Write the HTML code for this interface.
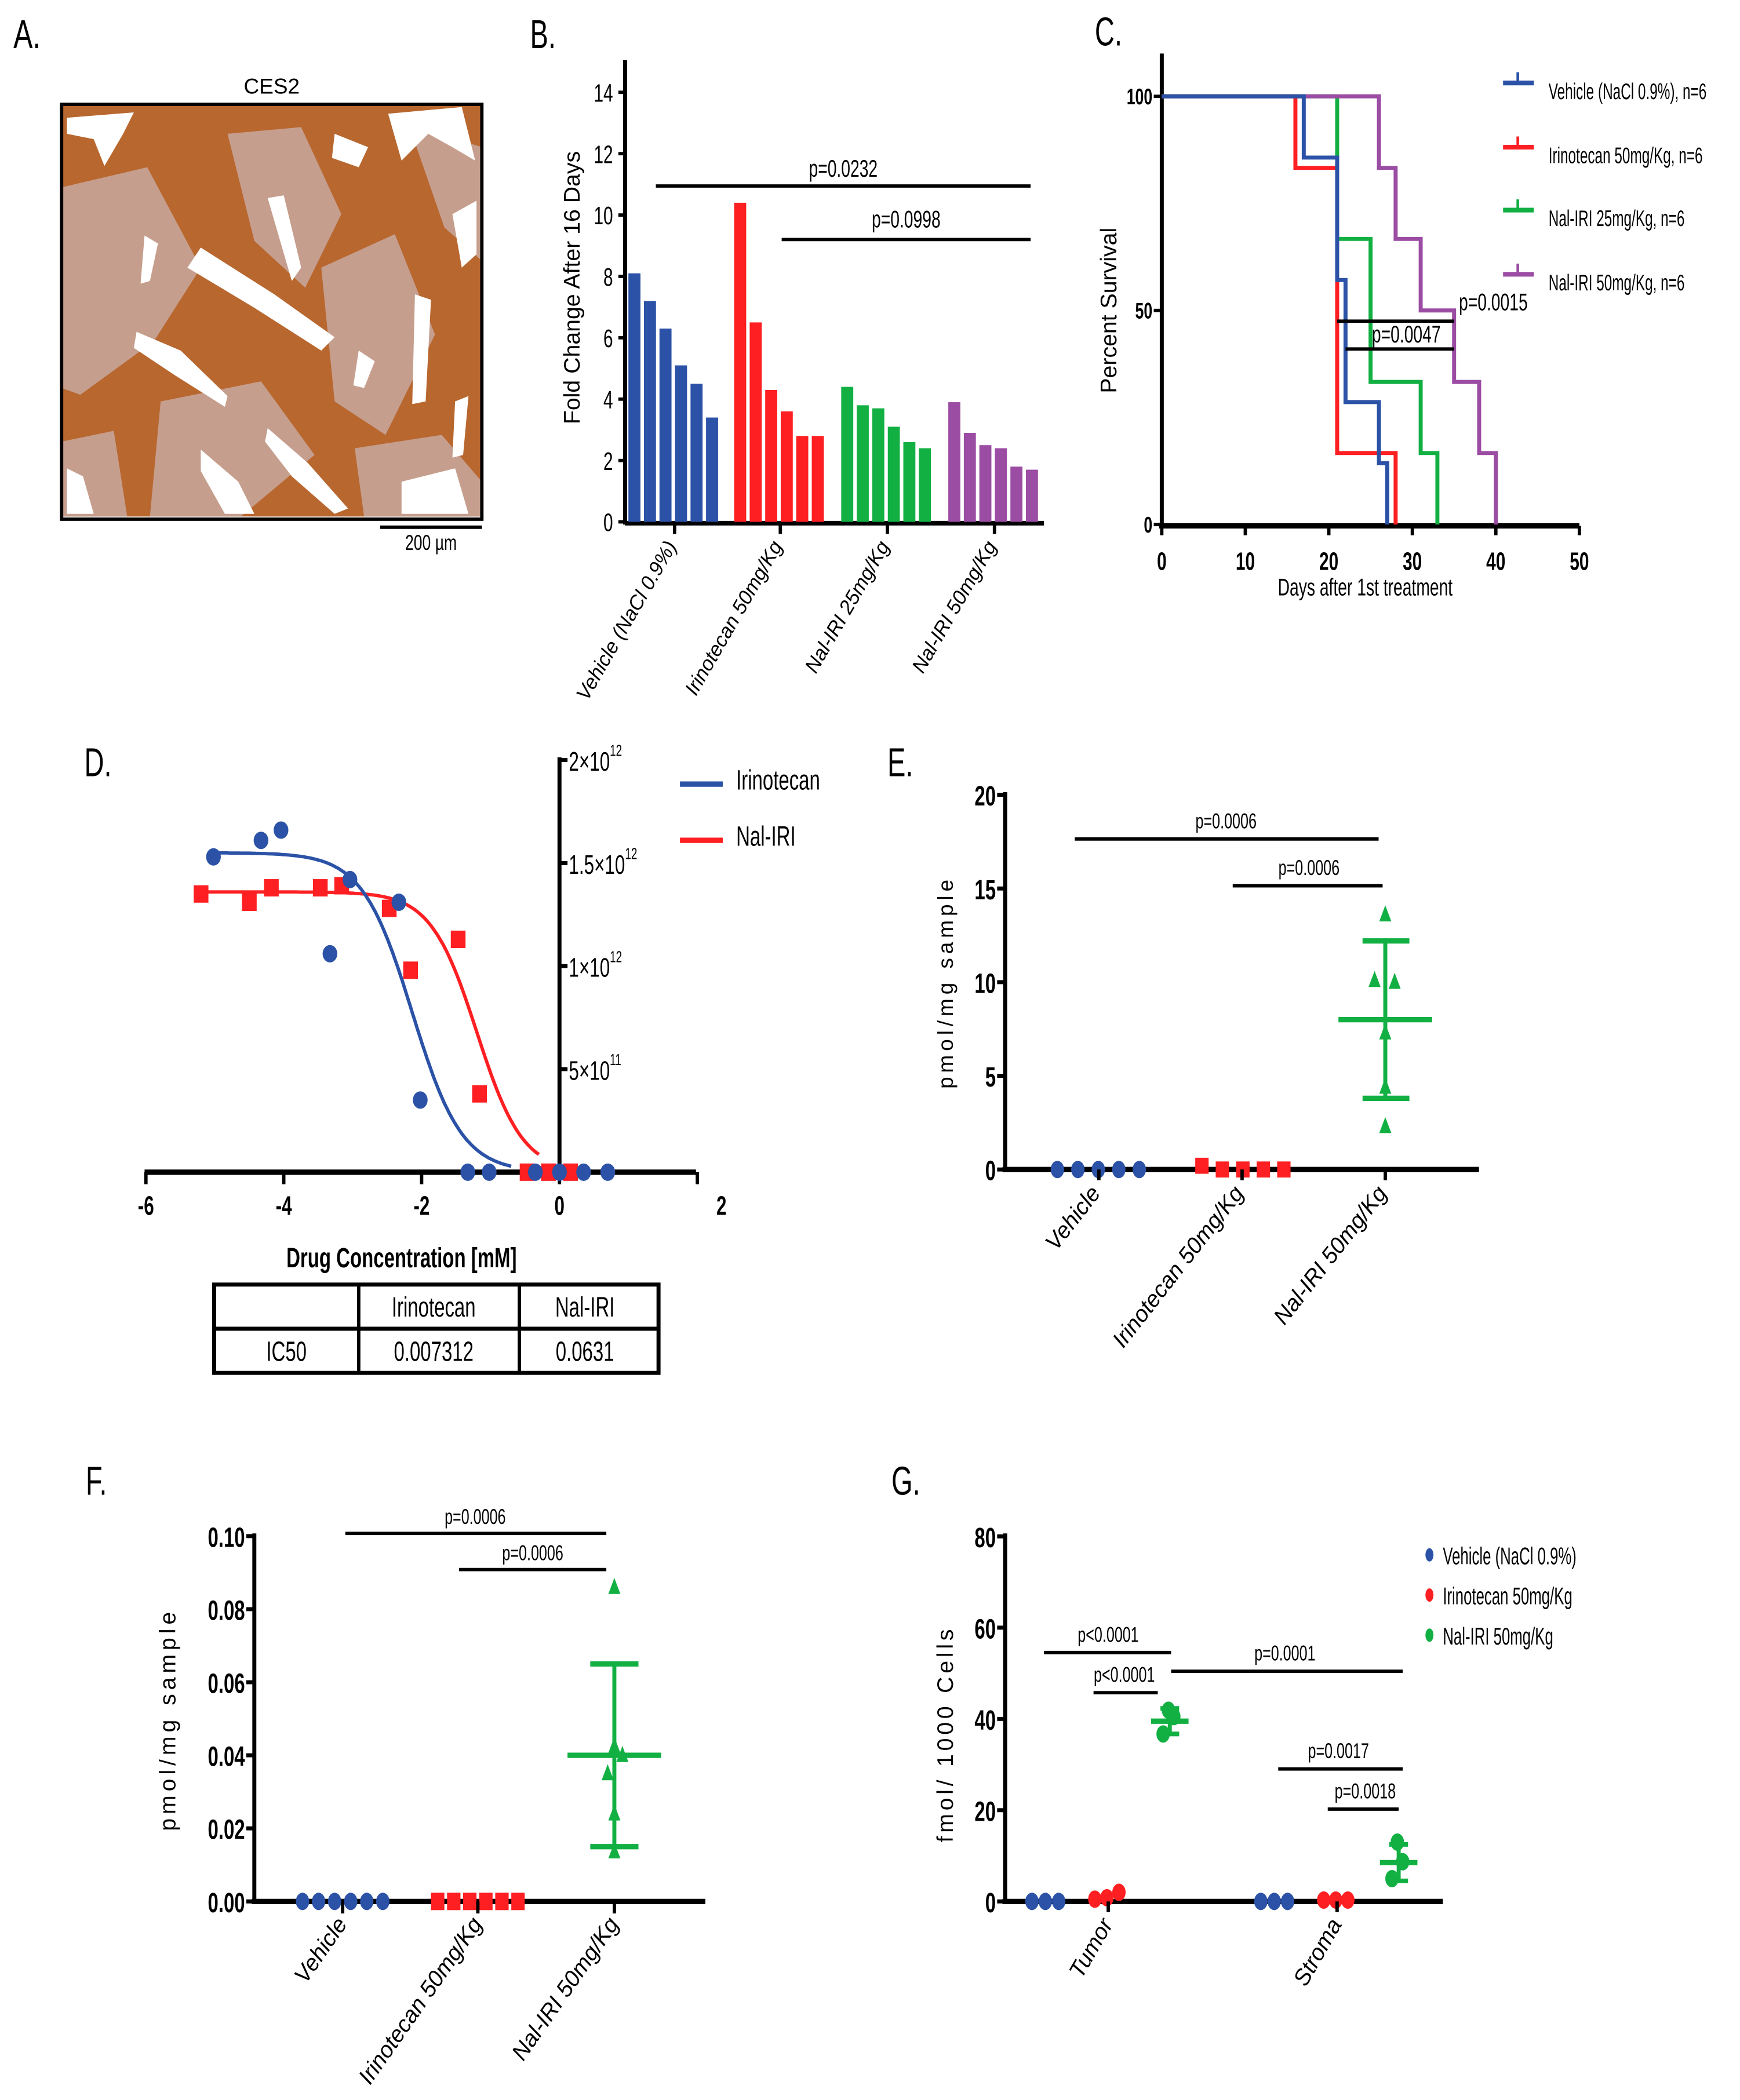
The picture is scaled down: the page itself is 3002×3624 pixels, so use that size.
<!DOCTYPE html>
<html><head><meta charset="utf-8"><style>
html,body{margin:0;padding:0;background:#fff;}
svg{display:block;}
text{font-family:"Liberation Sans",sans-serif;fill:#000;}
</style></head><body>
<svg id="fig" xmlns="http://www.w3.org/2000/svg" width="3002" height="3624" viewBox="0 0 1300 1569.4">
<rect x="0" y="0" width="1300" height="1569.4" fill="#fff"/>
<g>
<text x="10" y="36" font-size="30" transform="translate(10 0) scale(0.72 1) translate(-10 0)">A.</text>
<text x="203" y="70" font-size="16" text-anchor="middle">CES2</text>
<g>
<rect x="46" y="78" width="314" height="308" fill="#b8672f"/>
<g fill="#c8a89e" opacity="0.85">
<path d="M46 140 L110 125 L150 200 L115 255 L60 295 L46 290Z"/>
<path d="M170 100 L225 95 L255 160 L228 215 L190 180Z"/>
<path d="M240 200 L295 175 L325 250 L288 325 L250 300Z"/>
<path d="M120 300 L195 285 L235 340 L180 386 L112 386Z"/>
<path d="M305 92 L360 110 L360 195 L332 170Z"/>
<path d="M46 330 L85 322 L95 386 L46 386Z"/>
<path d="M265 335 L330 325 L360 360 L360 386 L272 386Z"/>
</g>
<g fill="#fff">
<path d="M50 88 L100 84 L92 100 L78 124 L70 104 L50 100Z"/>
<path d="M150 185 L205 220 L250 252 L240 262 L190 230 L140 200Z"/>
<path d="M102 248 L135 262 L170 296 L168 304 L130 280 L100 260Z"/>
<path d="M108 176 L118 182 L112 210 L105 212Z"/>
<path d="M200 148 L212 146 L225 200 L218 210Z"/>
<path d="M290 85 L345 80 L355 120 L338 110 L320 100 L300 120Z"/>
<path d="M338 160 L356 150 L356 190 L345 200Z"/>
<path d="M310 220 L322 224 L318 300 L308 302Z"/>
<path d="M200 320 L230 346 L260 380 L250 384 L218 356 L198 330Z"/>
<path d="M150 336 L178 360 L190 384 L168 384 L150 352Z"/>
<path d="M50 350 L62 356 L70 384 L50 384Z"/>
<path d="M300 360 L340 350 L350 384 L300 384Z"/>
<path d="M250 100 L275 110 L268 125 L248 118Z"/>
<path d="M268 262 L280 270 L272 290 L264 288Z"/>
<path d="M340 300 L350 296 L346 340 L338 342Z"/>
</g>
<rect x="46" y="78" width="314" height="310" fill="none" stroke="#000" stroke-width="2.5"/>
</g>
<line x1="284" y1="394" x2="360" y2="394" stroke="#000" stroke-width="2.5"/>
<text x="322" y="411" font-size="16" text-anchor="middle" transform="translate(322 0) scale(0.72 1) translate(-322 0)">200 µm</text>
</g>
<g id="pB"></g>
<g id="pC"></g>
<g id="pD"></g>
<g id="pE"></g>
<g id="pF"></g>
<g id="pG"></g>
</svg>
<script>
// ---------- DATA ----------
const bCategories = ["Vehicle (NaCl 0.9%)","Irinotecan 50mg/Kg","Nal-IRI 25mg/Kg","Nal-IRI 50mg/Kg"];
const bVehicle = [8.1,7.2,6.3,5.1,4.5,3.4];
const bIrinotecan = [10.4,6.5,4.3,3.6,2.8,2.8];
const bNal25 = [4.4,3.8,3.7,3.1,2.6,2.4];
const bNal50 = [3.9,2.9,2.5,2.4,1.8,1.7];
const bTicks = [0,2,4,6,8,10,12,14];
const cVehicleT = [17,21,22,26,27];
const cVehicleP = [85.7,57.1,28.6,14.3,0];
const cIrinoT = [16,21,28];
const cIrinoP = [83.3,16.7,0];
const cNal25T = [21,25,31,33];
const cNal25P = [66.7,33.3,16.7,0];
const cNal50T = [26,28,31,35,38,40];
const cNal50P = [83.3,66.7,50,33.3,16.7,0];
const cXTicks = [0,10,20,30,40,50];
const cYTicks = [0,50,100];
const cLegend = ["Vehicle (NaCl 0.9%), n=6","Irinotecan 50mg/Kg, n=6","Nal-IRI 25mg/Kg, n=6","Nal-IRI 50mg/Kg, n=6"];
const dIrinoX = [-5.02,-4.33,-4.04,-3.33,-3.04,-2.33,-2.02,-1.33,-1.02,-0.35,0,0.35,0.7];
const dIrinoY = [1.53,1.61,1.66,1.06,1.42,1.31,0.35,0,0,0,0,0,0];
const dNalX = [-5.2,-4.5,-4.18,-3.47,-3.16,-2.47,-2.16,-1.47,-1.16,-0.47,-0.16,0.16];
const dNalY = [1.35,1.31,1.38,1.38,1.39,1.28,0.98,1.13,0.38,0,0,0];
const dIrinoFit = [1.55,-2.136,1.2];
const dNalFit = [1.36,-1.2,1.3];
const dXTicks = [-6,-4,-2,0,2];
const dYTicks = [0.5,1,1.5,2];
const dYTickMant = ["5","1","1.5","2"];
const dYTickExp = ["11","12","12","12"];
const eCategories = ["Vehicle","Irinotecan 50mg/Kg","Nal-IRI 50mg/Kg"];
const eVehicle = [0,0,0,0,0];
const eIrino = [0.2,0,0,0,0];
const eNal = [13.6,10.1,10,7.3,4.4,2.3];
const eNalStats = [8.0,12.2,3.8];
const eTicks = [0,5,10,15,20];
const fCategories = ["Vehicle","Irinotecan 50mg/Kg","Nal-IRI 50mg/Kg"];
const fVehicle = [0,0,0,0,0,0];
const fIrino = [0,0,0,0,0,0];
const fNal = [0.086,0.0425,0.04,0.035,0.024,0.0136];
const fNalStats = [0.040,0.065,0.015];
const fTicks = [0,0.02,0.04,0.06,0.08,0.10];
const fTickLabels = ["0.00","0.02","0.04","0.06","0.08","0.10"];
const gCategories = ["Tumor","Stroma"];
const gVehicle = [[0,0,0],[0,0,0]];
const gIrino = [[0.5,0.8,2],[0.3,0.3,0.3]];
const gNal = [[41.9,40.5,36.7],[13,8.7,5]];
const gNalMean = [39.5,8.5];
const gNalSD = [2.8,4];
const gTicks = [0,20,40,60,80];
const gLegend = ["Vehicle (NaCl 0.9%)","Irinotecan 50mg/Kg","Nal-IRI 50mg/Kg"];

const BLUE="#2b52a6", RED="#fe1f22", GREEN="#12b043", PURPLE="#9b4ca3";
const NS="http://www.w3.org/2000/svg";
const NARROW=0.68;
function mk(parent, tag, attrs, name){
  const e=document.createElementNS(NS,tag);
  for(const k in attrs) e.setAttribute(k,attrs[k]);
  
  
  parent.appendChild(e); return e;
}
function txt(parent,x,y,s,size,name,extra){
  const a=Object.assign({x:x,y:y,'font-size':size},extra||{});
  if(!a.transform) a.transform=`translate(${x} 0) scale(${NARROW} 1) translate(${-x} 0)`;
  const t=mk(parent,'text',a,name); t.textContent=s; return t;
}
function wtxt(parent,x,y,s,size,name,extra){
  const a=Object.assign({x:x,y:y,'font-size':size},extra||{});
  const t=mk(parent,'text',a,name); t.textContent=s; return t;
}
function line(p,x1,y1,x2,y2,w,name,col){return mk(p,'line',{x1:x1,y1:y1,x2:x2,y2:y2,stroke:col||'#000','stroke-width':w},name);}
function tri(p,cx,cy,col,name){return mk(p,'path',{d:`M${cx} ${cy-7}L${cx+4.5} ${cy+5}L${cx-4.5} ${cy+5}Z`,fill:col},name);}

// ---------- PANEL B ----------
(function(){
  const g=document.getElementById('pB');
  txt(g,396,36,"B.",30,'panel-b-label');
  const y=v=>390-v*22.93;
  const centers=[504,583,663,743];
  line(g,467,45,467,392,3,'b-y-axis');
  line(g,467,391,780,391,3.5,'b-x-axis');
  bTicks.forEach(v=>{line(g,462,y(v),467,y(v),2.5,'b-y-tick');txt(g,458,y(v)+7,String(v),19,'b-y-tick-label',{'text-anchor':'end'});});
  const series=[bVehicle,bIrinotecan,bNal25,bNal50], cols=[BLUE,RED,GREEN,PURPLE];
  series.forEach((s,gi)=>{
    s.forEach((v,i)=>{
      const x=centers[gi]-34.5+i*11.6;
      mk(g,'rect',{x:x,y:y(v),width:9,height:390-y(v),fill:cols[gi]},'bar-'+gi+'-'+i);
    });
    line(g,centers[gi],391,centers[gi],399,2.5,'b-x-tick');
    wtxt(g,centers[gi]+2,408,bCategories[gi],15,'b-category-label',{'text-anchor':'end','font-style':'italic',transform:`rotate(-60 ${centers[gi]+2} 408)`});
  });
  wtxt(g,433,215,"Fold Change After 16 Days",17,'b-y-axis-title',{'text-anchor':'middle',transform:'rotate(-90 433 215)'});
  line(g,490,139,770,139,2.5,'b-sig-line-1');
  txt(g,630,132,"p=0.0232",18,'b-sig-label-1',{'text-anchor':'middle'});
  line(g,584,179,770,179,2.5,'b-sig-line-2');
  txt(g,677,170,"p=0.0998",18,'b-sig-label-2',{'text-anchor':'middle'});
})();

// ---------- PANEL C ----------
(function(){
  const g=document.getElementById('pC');
  txt(g,818,34,"C.",30,'panel-c-label');
  const x=d=>868+d*6.24, y=p=>392-p*3.2;
  line(g,868,40,868,394,3,'c-y-axis');
  line(g,866,393,1180,393,4,'c-x-axis');
  cXTicks.forEach(v=>{line(g,x(v),393,x(v),400,2.5,'c-x-tick');txt(g,x(v),426,String(v),19,'c-x-tick-label',{'text-anchor':'middle','font-weight':'bold'});});
  cYTicks.forEach(v=>{line(g,862,y(v),868,y(v),2.5,'c-y-tick');txt(g,861,y(v)+6,String(v),17,'c-y-tick-label',{'text-anchor':'end','font-weight':'bold'});});
  txt(g,1020,445,"Days after 1st treatment",18,'c-x-axis-title',{'text-anchor':'middle'});
  wtxt(g,834,232,"Percent Survival",17,'c-y-axis-title',{'text-anchor':'middle',transform:'rotate(-90 834 232)'});
  function step(T,P){let d=`M${x(0)} ${y(100)}`;T.forEach((t,i)=>{d+=`H${x(t)}V${y(P[i])}`;});return d;}
  const S=[[cNal25T,cNal25P,GREEN],[cNal50T,cNal50P,PURPLE],[cIrinoT,cIrinoP,RED],[cVehicleT,cVehicleP,BLUE]];
  S.forEach((s,i)=>mk(g,'path',{d:step(s[0],s[1]),fill:'none',stroke:s[2],'stroke-width':3},'survival-curve-'+i));
  line(g,x(21),y(47.5),x(35),y(47.5),2.5,'c-sig-line-1');
  txt(g,1090,232,"p=0.0015",18,'c-sig-label-1');
  line(g,x(22),y(41),x(35),y(41),2.5,'c-sig-line-2');
  txt(g,1025,256,"p=0.0047",18,'c-sig-label-2');
  const lc=[BLUE,RED,GREEN,PURPLE], ly=[62,110,157,205];
  cLegend.forEach((s,i)=>{
    line(g,1123,ly[i],1146,ly[i],3.5,'c-legend-line',lc[i]);
    line(g,1134,ly[i],1134,ly[i]-8,2,'c-legend-tick',lc[i]);
    txt(g,1157,ly[i]+12,s,17,'c-legend-entry',{transform:`translate(1157 0) scale(0.62 1) translate(-1157 0)`});
  });
})();

// ---------- PANEL D ----------
(function(){
  const g=document.getElementById('pD');
  txt(g,63,580,"D.",30,'panel-d-label');
  const x=v=>418+v*51.5, y=v=>876-v*154;
  line(g,418,566,418,877,3,'d-y-axis');
  line(g,108,876,520,876,4,'d-x-axis');
  dXTicks.forEach(v=>{line(g,x(v),876,x(v),885,2.5,'d-x-tick');txt(g,x(v)+(v===2?18:0),908,String(v),20,'d-x-tick-label',{'text-anchor':'middle','font-weight':'bold'});});
  dYTicks.forEach((v,i)=>{
    line(g,418,y(v),424,y(v),3,'d-y-tick');
    const t=txt(g,425,y(v)+8,dYTickMant[i]+"\u00d710",20,'d-y-tick-label');
    const ts=document.createElementNS(NS,'tspan');ts.setAttribute('dy','-11');ts.setAttribute('font-size','12');ts.textContent=dYTickExp[i];t.appendChild(ts);
  });
  function fit(p,x0,x1){let d='';for(let i=0;i<=120;i++){const xv=x0+(x1-x0)*i/120;const v=p[0]/(1+Math.pow(10,p[2]*(xv-p[1])));d+=(i?'L':'M')+x(xv).toFixed(1)+' '+y(v).toFixed(1);}return d;}
  mk(g,'path',{d:fit(dNalFit,-5.2,-0.3),fill:'none',stroke:RED,'stroke-width':2.5},'nal-iri-fit-curve');
  mk(g,'path',{d:fit(dIrinoFit,-5.0,-0.7),fill:'none',stroke:BLUE,'stroke-width':2.5},'irinotecan-fit-curve');
  dNalX.forEach((v,i)=>mk(g,'rect',{x:x(v)-5.5,y:y(dNalY[i])-6.5,width:11,height:13,fill:RED},'nal-iri-point'));
  dIrinoX.forEach((v,i)=>mk(g,'ellipse',{cx:x(v),cy:y(dIrinoY[i]),rx:5.5,ry:6.5,fill:BLUE},'irinotecan-point'));
  line(g,508,586,540,586,4,'d-legend-line-irinotecan',BLUE);
  txt(g,550,590,"Irinotecan",21,'d-legend-irinotecan');
  line(g,508,628,540,628,4,'d-legend-line-nal-iri',RED);
  txt(g,550,632,"Nal-IRI",21,'d-legend-nal-iri');
  txt(g,300,947,"Drug Concentration [mM]",21,'d-x-axis-title',{'text-anchor':'middle','font-weight':'bold'});
  const tb=mk(g,'g',{},'ic50-table');
  mk(tb,'rect',{x:160,y:960,width:332,height:66,fill:'none',stroke:'#000','stroke-width':3},'table-border');
  line(tb,160,993,492,993,3,'table-row-divider');
  line(tb,268,960,268,1026,2.5,'table-col-divider');
  line(tb,388,960,388,1026,2.5,'table-col-divider');
  txt(tb,324,984,"Irinotecan",21,'table-header-irinotecan',{'text-anchor':'middle'});
  txt(tb,437,984,"Nal-IRI",21,'table-header-nal-iri',{'text-anchor':'middle'});
  txt(tb,214,1017,"IC50",21,'table-row-ic50',{'text-anchor':'middle'});
  txt(tb,324,1017,"0.007312",21,'table-ic50-irinotecan',{'text-anchor':'middle'});
  txt(tb,437,1017,"0.0631",21,'table-ic50-nal-iri',{'text-anchor':'middle'});
})();

function dotPanel(g,opt){
  const y=v=>opt.y0-v*opt.k;
  line(g,opt.ax,opt.top,opt.ax,opt.y0+2,3,opt.p+'-y-axis');
  line(g,opt.ax-2,opt.y0,opt.xend,opt.y0,4,opt.p+'-x-axis');
  opt.ticks.forEach((v,i)=>{line(g,opt.ax-6,y(v),opt.ax,y(v),3,opt.p+'-y-tick');txt(g,opt.ax-7,y(v)+8,opt.tickLabels?opt.tickLabels[i]:String(v),21,opt.p+'-y-tick-label',{'text-anchor':'end','font-weight':'bold'});});
  return y;
}

// ---------- PANEL E ----------
(function(){
  const g=document.getElementById('pE');
  txt(g,663,580,"E.",30,'panel-e-label');
  const y=dotPanel(g,{p:'e',ax:751,top:592,y0:874,k:14,xend:1105,ticks:eTicks});
  const centers=[821,928,1035];
  eVehicle.forEach((v,i)=>mk(g,'ellipse',{cx:790+i*15.3,cy:y(v),rx:5,ry:6.5,fill:BLUE},'e-vehicle-point'));
  eIrino.forEach((v,i)=>mk(g,'rect',{x:893+i*15.3,y:y(v)-6,width:10,height:12,fill:RED},'e-irinotecan-point'));
  const ox=[0,-8,7,0,0,0];
  eNal.forEach((v,i)=>tri(g,1035+ox[i],y(v),GREEN,'e-nal-iri-point'));
  line(g,1035,y(eNalStats[1]),1035,y(eNalStats[2]),3,'e-error-bar',GREEN);
  line(g,1018,y(eNalStats[1]),1053,y(eNalStats[1]),4,'e-error-cap-upper',GREEN);
  line(g,1018,y(eNalStats[2]),1053,y(eNalStats[2]),4,'e-error-cap-lower',GREEN);
  line(g,1000,y(eNalStats[0]),1070,y(eNalStats[0]),4,'e-mean-line',GREEN);
  centers.forEach((c,i)=>{line(g,c,874,c,882,2.5,'e-x-tick');wtxt(g,c+2,892,eCategories[i],17,'e-category-label',{'text-anchor':'end','font-style':'italic',transform:`rotate(-52 ${c+2} 892)`});});
  wtxt(g,712,734,"pmol/mg sample",16,'e-y-axis-title',{'text-anchor':'middle','letter-spacing':'3',transform:'rotate(-90 712 734)'});
  line(g,803,627,1030,627,2.5,'e-sig-line-1');txt(g,916,619,"p=0.0006",16,'e-sig-label-1',{'text-anchor':'middle'});
  line(g,921,662,1033,662,2.5,'e-sig-line-2');txt(g,978,654,"p=0.0006",16,'e-sig-label-2',{'text-anchor':'middle'});
})();

// ---------- PANEL F ----------
(function(){
  const g=document.getElementById('pF');
  txt(g,64,1117,"F.",30,'panel-f-label');
  const y=dotPanel(g,{p:'f',ax:190,top:1146,y0:1421,k:2730,xend:527,ticks:fTicks,tickLabels:fTickLabels});
  const centers=[256,357,459];
  fVehicle.forEach((v,i)=>mk(g,'ellipse',{cx:226+i*12,cy:y(v),rx:5,ry:6.5,fill:BLUE},'f-vehicle-point'));
  fIrino.forEach((v,i)=>mk(g,'rect',{x:322+i*12,y:y(v)-6.5,width:10,height:13,fill:RED},'f-irinotecan-point'));
  const ox=[0,0,6,-5,0,0];
  fNal.forEach((v,i)=>tri(g,459+ox[i],y(v),GREEN,'f-nal-iri-point'));
  line(g,459,y(fNalStats[1]),459,y(fNalStats[2]),3,'f-error-bar',GREEN);
  line(g,441,y(fNalStats[1]),477,y(fNalStats[1]),4,'f-error-cap-upper',GREEN);
  line(g,441,y(fNalStats[2]),477,y(fNalStats[2]),4,'f-error-cap-lower',GREEN);
  line(g,424,y(fNalStats[0]),494,y(fNalStats[0]),4,'f-mean-line',GREEN);
  centers.forEach((c,i)=>{line(g,c,1421,c,1430,2.5,'f-x-tick');wtxt(g,c+4,1438,fCategories[i],17,'f-category-label',{'text-anchor':'end','font-style':'italic',transform:`rotate(-55 ${c+4} 1438)`});});
  wtxt(g,131,1285,"pmol/mg sample",17,'f-y-axis-title',{'text-anchor':'middle','letter-spacing':'3',transform:'rotate(-90 131 1285)'});
  line(g,258,1146,453,1146,2.5,'f-sig-line-1');txt(g,355,1139,"p=0.0006",16,'f-sig-label-1',{'text-anchor':'middle'});
  line(g,343,1173,453,1173,2.5,'f-sig-line-2');txt(g,398,1166,"p=0.0006",16,'f-sig-label-2',{'text-anchor':'middle'});
})();

// ---------- PANEL G ----------
(function(){
  const g=document.getElementById('pG');
  txt(g,666,1117,"G.",30,'panel-g-label');
  const y=dotPanel(g,{p:'g',ax:751,top:1146,y0:1421,k:3.41,xend:1078,ticks:gTicks});
  const base=[771,942];
  gCategories.forEach((c,ci)=>{
    const b=base[ci];
    gVehicle[ci].forEach((v,i)=>mk(g,'ellipse',{cx:b+i*10,cy:y(v),rx:5,ry:6.5,fill:BLUE},'g-vehicle-point'));
    gIrino[ci].forEach((v,i)=>mk(g,'ellipse',{cx:b+47+i*9,cy:y(v),rx:5,ry:6.5,fill:RED},'g-irinotecan-point'));
    const ox=[2,6,-2];
    gNal[ci].forEach((v,i)=>mk(g,'ellipse',{cx:b+100+ox[i],cy:y(v),rx:5,ry:6.5,fill:GREEN},'g-nal-iri-point'));
    const cx=b+103;
    line(g,cx,y(gNalMean[ci]+gNalSD[ci]),cx,y(gNalMean[ci]-gNalSD[ci]),3,'g-error-bar',GREEN);
    line(g,cx-7,y(gNalMean[ci]+gNalSD[ci]),cx+7,y(gNalMean[ci]+gNalSD[ci]),3.5,'g-error-cap-upper',GREEN);
    line(g,cx-7,y(gNalMean[ci]-gNalSD[ci]),cx+7,y(gNalMean[ci]-gNalSD[ci]),3.5,'g-error-cap-lower',GREEN);
    line(g,cx-14,y(gNalMean[ci]),cx+14,y(gNalMean[ci]),4,'g-mean-line',GREEN);
    const tx=b+57;
    line(g,tx,1421,tx,1429,2.5,'g-x-tick');
    wtxt(g,tx+4,1438,c,17,'g-category-label',{'text-anchor':'end','font-style':'italic',transform:`rotate(-60 ${tx+4} 1438)`});
  });
  wtxt(g,712,1296,"fmol/ 1000 Cells",17,'g-y-axis-title',{'text-anchor':'middle','letter-spacing':'2.5',transform:'rotate(-90 712 1296)'});
  const sig=[[780,875,1235,828,"p<0.0001"],[817,865,1265,840,"p<0.0001"],[875,1048,1249,960,"p=0.0001"],[955,1048,1322,1000,"p=0.0017"],[992,1045,1352,1020,"p=0.0018"]];
  sig.forEach((s,i)=>{line(g,s[0],s[2],s[1],s[2],2.5,'g-sig-line-'+i);txt(g,s[3],s[2]-8,s[4],16,'g-sig-label-'+i,{'text-anchor':'middle'});});
  const lc=[BLUE,RED,GREEN], ly=[1162,1192,1222];
  gLegend.forEach((s,i)=>{mk(g,'ellipse',{cx:1068,cy:ly[i],rx:3,ry:5,fill:lc[i]},'g-legend-marker');txt(g,1078,ly[i]+7,s,18,'g-legend-entry',{transform:`translate(1078 0) scale(0.62 1) translate(-1078 0)`});});
})();
</script>
</body></html>
